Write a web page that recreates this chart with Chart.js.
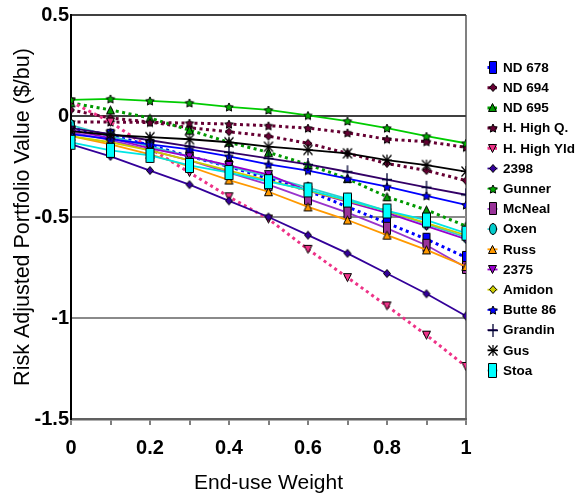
<!DOCTYPE html>
<html>
<head>
<meta charset="utf-8">
<script src="https://cdn.jsdelivr.net/npm/chart.js@4.4.1/dist/chart.umd.min.js"></script>
<style>
  body { margin: 0; background: #fff; }
  #wrap { width: 583px; height: 494px; }
</style>
</head>
<body>
<div id="wrap"><canvas id="myChart" width="583" height="494"></canvas></div>
<script>
// End-use weight on the x axis
const weights = [0, 0.1, 0.2, 0.3, 0.4, 0.5, 0.6, 0.7, 0.8, 0.9, 1];

// Risk adjusted portfolio value ($/bu) per variety
const nd678    = [-0.06, -0.095, -0.145, -0.2, -0.25, -0.31, -0.37, -0.45, -0.53, -0.61, -0.70];
const nd694    = [0.03, -0.01, -0.03, -0.058, -0.078, -0.1, -0.135, -0.185, -0.235, -0.27, -0.32];
const nd695    = [0.065, 0.03, -0.01, -0.07, -0.13, -0.18, -0.24, -0.31, -0.40, -0.465, -0.545];
const hHighQ   = [-0.03, -0.03, -0.032, -0.035, -0.04, -0.048, -0.06, -0.083, -0.115, -0.127, -0.155];
const hHighYld = [0.07, -0.03, -0.16, -0.28, -0.40, -0.51, -0.66, -0.80, -0.94, -1.085, -1.24];
const v2398    = [-0.14, -0.2, -0.27, -0.34, -0.42, -0.5, -0.59, -0.68, -0.78, -0.88, -0.99];
const gunner   = [0.08, 0.085, 0.075, 0.065, 0.045, 0.03, 0.003, -0.025, -0.06, -0.1, -0.135];
const mcneal   = [-0.08, -0.12, -0.17, -0.22, -0.28, -0.34, -0.41, -0.478, -0.556, -0.64, -0.75];
const oxen     = [-0.045, -0.1, -0.15, -0.2, -0.25, -0.3, -0.355, -0.41, -0.47, -0.535, -0.6];
const russ     = [-0.1, -0.14, -0.19, -0.25, -0.317, -0.375, -0.45, -0.515, -0.59, -0.663, -0.745];
const v2375    = [-0.07, -0.11, -0.16, -0.2, -0.245, -0.29, -0.37, -0.425, -0.48, -0.545, -0.61];
const amidon   = [-0.1, -0.13, -0.17, -0.22, -0.27, -0.32, -0.37, -0.42, -0.47, -0.53, -0.59];
const butte86  = [-0.09, -0.115, -0.14, -0.165, -0.2, -0.24, -0.27, -0.31, -0.35, -0.395, -0.44];
const grandin  = [-0.06, -0.09, -0.12, -0.15, -0.18, -0.21, -0.24, -0.276, -0.315, -0.353, -0.39];
const gus      = [-0.075, -0.094, -0.105, -0.115, -0.13, -0.152, -0.168, -0.185, -0.218, -0.243, -0.275];
const stoa     = [-0.13, -0.17, -0.195, -0.245, -0.28, -0.325, -0.366, -0.416, -0.47, -0.515, -0.58];

const yTicks = [0.5, 0, -0.5, -1, -1.5];

const FONT = '"Liberation Sans", Arial, sans-serif';

// small canvas markers (Chart.js accepts a canvas as pointStyle)
function makeMarker(shape, fill, w, h) {
  const c = document.createElement("canvas");
  c.width = w + 2;
  c.height = h + 2;
  const g = c.getContext("2d");
  g.translate(1, 1);
  g.fillStyle = fill;
  g.strokeStyle = "#000";
  g.lineWidth = 1;
  g.beginPath();
  const cx = w / 2, cy = h / 2;
  if (shape === "rect") {
    g.rect(0.5, 0.5, w - 1, h - 1);
  } else if (shape === "ellipse") {
    g.ellipse(cx, cy, cx - 0.5, cy - 0.5, 0, 0, Math.PI * 2);
  } else if (shape === "triangle") {
    g.moveTo(cx, 0.5); g.lineTo(w - 0.5, h - 0.5); g.lineTo(0.5, h - 0.5); g.closePath();
  } else if (shape === "triangleDown") {
    g.moveTo(0.5, 0.5); g.lineTo(w - 0.5, 0.5); g.lineTo(cx, h - 0.5); g.closePath();
  } else if (shape === "diamond") {
    g.moveTo(cx, 0.5); g.lineTo(w - 0.5, cy); g.lineTo(cx, h - 0.5); g.lineTo(0.5, cy); g.closePath();
  } else if (shape === "star") {
    for (let i = 0; i < 10; i++) {
      const r = i % 2 === 0 ? cx - 0.5 : (cx - 0.5) * 0.5;
      const a = -Math.PI / 2 + i * Math.PI / 5;
      const px = cx + r * Math.cos(a), py = cy + r * Math.sin(a) + 0.5;
      if (i === 0) g.moveTo(px, py); else g.lineTo(px, py);
    }
    g.closePath();
  }
  if (shape === "plus") {
    g.strokeStyle = fill;
    g.lineWidth = 1.3;
    g.moveTo(cx, 0); g.lineTo(cx, h);
    g.moveTo(0, cy); g.lineTo(w, cy);
    g.stroke();
  } else if (shape === "asterisk") {
    g.strokeStyle = fill;
    g.lineWidth = 1.2;
    g.moveTo(cx, 0); g.lineTo(cx, h);
    g.moveTo(0.5, 0.5); g.lineTo(w - 0.5, h - 0.5);
    g.moveTo(w - 0.5, 0.5); g.lineTo(0.5, h - 0.5);
    g.moveTo(0, cy); g.lineTo(w, cy);
    g.stroke();
  } else {
    g.fill();
    g.stroke();
  }
  return c;
}

const DOT = [3, 3.5];

const series = [
  { label: "ND 678", data: nd678, color: "#0000ff", dash: DOT, width: 3, marker: makeMarker("rect", "#0000ff", 8, 13) },
  { label: "ND 694", data: nd694, color: "#660033", dash: DOT, width: 3, marker: makeMarker("diamond", "#660033", 8, 9) },
  { label: "ND 695", data: nd695, color: "#009900", dash: DOT, width: 3, marker: makeMarker("triangle", "#009900", 9, 9) },
  { label: "H. High Q.", data: hHighQ, color: "#660033", dash: DOT, width: 3, marker: makeMarker("star", "#660033", 10, 10) },
  { label: "H. High Yld", data: hHighYld, color: "#ee3388", dash: DOT, width: 3, marker: makeMarker("triangleDown", "#ee3388", 9, 9) },
  { label: "2398", data: v2398, color: "#330099", dash: [], width: 1.8, marker: makeMarker("diamond", "#330099", 8, 9) },
  { label: "Gunner", data: gunner, color: "#00cc00", dash: [], width: 1.8, marker: makeMarker("star", "#00aa00", 10, 10) },
  { label: "McNeal", data: mcneal, color: "#9933cc", dash: [], width: 1.8, marker: makeMarker("rect", "#993399", 8, 13) },
  { label: "Oxen", data: oxen, color: "#33cccc", dash: [], width: 1.8, marker: makeMarker("ellipse", "#00cccc", 8, 12) },
  { label: "Russ", data: russ, color: "#ff9900", dash: [], width: 1.8, marker: makeMarker("triangle", "#ff9900", 9, 9) },
  { label: "2375", data: v2375, color: "#9900cc", dash: [], width: 1.8, marker: makeMarker("triangleDown", "#9900cc", 9, 9) },
  { label: "Amidon", data: amidon, color: "#cccc00", dash: [], width: 1.8, marker: makeMarker("diamond", "#cccc00", 8, 9) },
  { label: "Butte 86", data: butte86, color: "#0000ff", dash: [], width: 1.8, marker: makeMarker("star", "#0000ff", 10, 10) },
  { label: "Grandin", data: grandin, color: "#330066", dash: [], width: 1.8, marker: makeMarker("plus", "#000033", 10, 13) },
  { label: "Gus", data: gus, color: "#000000", dash: [], width: 1.8, marker: makeMarker("asterisk", "#000000", 10, 11) },
  { label: "Stoa", data: stoa, color: "#00e5e5", dash: [], width: 1.8, marker: makeMarker("rect", "#00ffff", 9, 15) }
];

const datasets = series.map((s, i) => ({
  label: s.label,
  data: s.data.map((v, j) => ({ x: weights[j], y: v })),
  borderColor: s.color,
  backgroundColor: s.color,
  borderWidth: s.width,
  borderDash: s.dash,
  pointStyle: s.marker,
  pointRadius: 5,
  tension: 0,
  order: series.length - i
}));

// legend on the right, drawn by hand
const sideLegend = {
  id: "sideLegend",
  afterDraw(chart) {
    const ctx = chart.ctx;
    ctx.save();
    series.forEach((s, i) => {
      const y = 67.5 + i * 20.2;
      const x = 492.5;
      ctx.beginPath();
      ctx.strokeStyle = s.color;
      ctx.lineWidth = s.width;
      ctx.setLineDash(s.dash);
      ctx.moveTo(x - 5, y);
      ctx.lineTo(x + 5, y);
      ctx.stroke();
      ctx.setLineDash([]);
      const m = s.marker;
      ctx.drawImage(m, Math.round(x - m.width / 2), Math.round(y - m.height / 2));
      ctx.fillStyle = "#000";
      ctx.font = "bold 13.5px " + FONT;
      ctx.textBaseline = "middle";
      ctx.textAlign = "left";
      ctx.fillText(s.label, 503, y + 0.5);
    });
    ctx.restore();
  }
};

function yGridColor(ctx) {
  const v = ctx.tick && ctx.tick.value;
  if (v === 0 || v === 0.5) return "#404040";
  return "#8a8a8a";
}

new Chart(document.getElementById("myChart"), {
  type: "line",
  data: { datasets: datasets },
  options: {
    responsive: false,
    animation: false,
    layout: { padding: { top: 15, right: 117, left: 0, bottom: 0 } },
    plugins: {
      legend: { display: false },
      tooltip: { enabled: false }
    },
    scales: {
      x: {
        type: "linear",
        min: 0,
        max: 1,
        afterFit: (scale) => { scale.height = 75; },
        border: { color: "#606060", width: 2.5 },
        grid: {
          drawOnChartArea: true,
          color: (ctx) => (ctx.tick && ctx.tick.value === 1 ? "#808080" : "rgba(0,0,0,0)"),
          lineWidth: 2,
          tickColor: "#000",
          tickLength: 6,
          tickWidth: 1
        },
        ticks: {
          stepSize: 0.1,
          autoSkip: false,
          maxRotation: 0,
          padding: 11,
          color: "#000",
          font: { family: FONT, size: 20, weight: "bold" },
          callback: (v, i) => (i % 2 === 0 ? String(Math.round(v * 10) / 10) : "")
        },
        title: {
          display: true,
          text: "End-use Weight",
          color: "#000",
          font: { family: FONT, size: 21, lineHeight: 1 },
          padding: { top: 0, bottom: 0 }
        }
      },
      y: {
        min: -1.5,
        max: 0.5,
        afterFit: (scale) => { scale.width = 71; },
        afterBuildTicks: (scale) => { scale.ticks = yTicks.map(v => ({ value: v })); },
        border: { color: "#000", width: 2 },
        grid: {
          color: yGridColor,
          lineWidth: 2,
          drawTicks: false
        },
        ticks: {
          padding: 2,
          color: "#000",
          font: { family: FONT, size: 20, weight: "bold" },
          callback: (v) => String(v)
        },
        title: {
          display: true,
          text: "Risk Adjusted Portfolio Value ($/bu)",
          color: "#000",
          font: { family: FONT, size: 21.5, lineHeight: 1 },
          padding: { top: 12, bottom: 0 }
        }
      }
    }
  },
  plugins: [sideLegend]
});
</script>
</body>
</html>
